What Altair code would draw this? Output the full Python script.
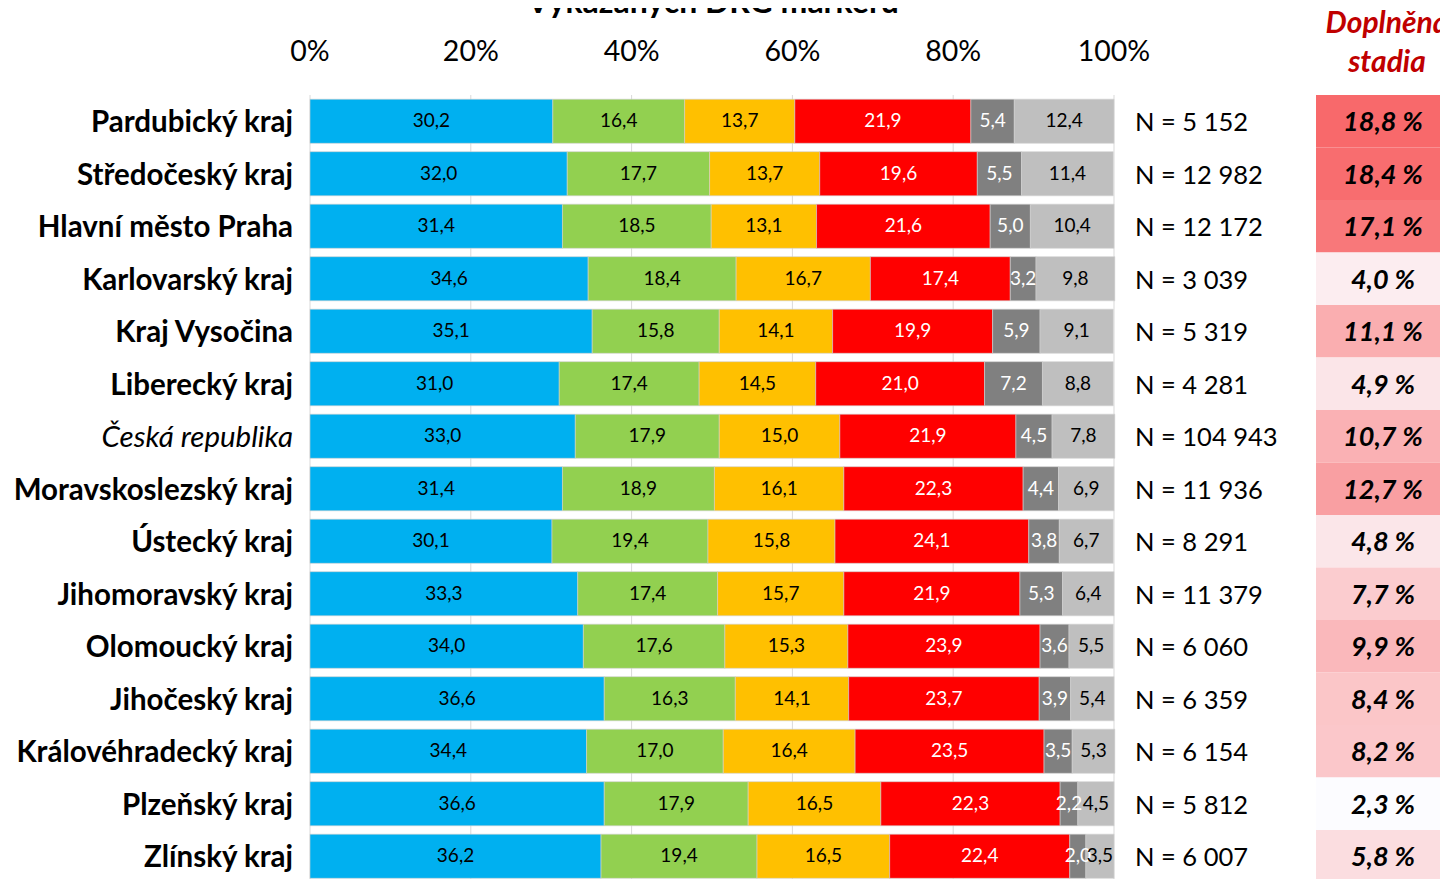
import altair as alt
import pandas as pd

title = "Vykázaných DRG markerů"
header = ["Doplněná", "stadia"]

regions = ["Pardubický kraj", "Středočeský kraj", "Hlavní město Praha", "Karlovarský kraj",
           "Kraj Vysočina", "Liberecký kraj", "Česká republika", "Moravskoslezský kraj",
           "Ústecký kraj", "Jihomoravský kraj", "Olomoucký kraj", "Jihočeský kraj",
           "Královéhradecký kraj", "Plzeňský kraj", "Zlínský kraj"]
italic_region = "Česká republika"

series = ["I", "II", "III", "IV", "X", "neuvedeno"]
s_blue = [30.2, 32.0, 31.4, 34.6, 35.1, 31.0, 33.0, 31.4, 30.1, 33.3, 34.0, 36.6, 34.4, 36.6, 36.2]
s_green = [16.4, 17.7, 18.5, 18.4, 15.8, 17.4, 17.9, 18.9, 19.4, 17.4, 17.6, 16.3, 17.0, 17.9, 19.4]
s_yellow = [13.7, 13.7, 13.1, 16.7, 14.1, 14.5, 15.0, 16.1, 15.8, 15.7, 15.3, 14.1, 16.4, 16.5, 16.5]
s_red = [21.9, 19.6, 21.6, 17.4, 19.9, 21.0, 21.9, 22.3, 24.1, 21.9, 23.9, 23.7, 23.5, 22.3, 22.4]
s_dgray = [5.4, 5.5, 5.0, 3.2, 5.9, 7.2, 4.5, 4.4, 3.8, 5.3, 3.6, 3.9, 3.5, 2.2, 2.0]
s_lgray = [12.4, 11.4, 10.4, 9.8, 9.1, 8.8, 7.8, 6.9, 6.7, 6.4, 5.5, 5.4, 5.3, 4.5, 3.5]
n_counts = [5152, 12982, 12172, 3039, 5319, 4281, 104943, 11936, 8291, 11379, 6060, 6359, 6154, 5812, 6007]
doplnena = [18.8, 18.4, 17.1, 4.0, 11.1, 4.9, 10.7, 12.7, 4.8, 7.7, 9.9, 8.4, 8.2, 2.3, 5.8]

tick_values = [0, 20, 40, 60, 80, 100]
tick_labels = ["0%", "20%", "40%", "60%", "80%", "100%"]

bar_colors = ["#00B0F0", "#92D050", "#FFC000", "#FF0000", "#808080", "#BFBFBF"]
label_colors = ["#000000", "#000000", "#000000", "#FFFFFF", "#FFFFFF", "#000000"]

FONT = "Lato"

all_series = [s_blue, s_green, s_yellow, s_red, s_dgray, s_lgray]
seg_rows = []
for i, r in enumerate(regions):
    for j, s in enumerate(series):
        v = all_series[j][i]
        seg_rows.append({"region": r, "series": s, "order": j, "value": v,
                         "label": f"{v:.1f}".replace(".", ",")})
seg = pd.DataFrame(seg_rows)

reg = pd.DataFrame({
    "region": regions,
    "n_label": [("N = " + f"{n:,}".replace(",", " ")) for n in n_counts],
    "dop": doplnena,
    "dop_label": [f"{d:.1f}".replace(".", ",") + " %" for d in doplnena],
})
ticks = pd.DataFrame({"v": tick_values, "label": tick_labels})

xscale = alt.Scale(domain=[0, 100], range=[302, 1106], nice=False, zero=False)
yscale = alt.Scale(type="band", domain=regions, range=[87, 874.5], paddingInner=0.16, paddingOuter=0.08)
yscale_heat = alt.Scale(type="band", domain=regions, range=[87, 874.5], paddingInner=0, paddingOuter=0)

Y = alt.Y("region:N", sort=regions, scale=yscale, axis=None)
Yh = alt.Y("region:N", sort=regions, scale=yscale_heat, axis=None)

grid = alt.Chart(ticks).mark_rule(color="#D9D9D9", strokeWidth=1).encode(
    x=alt.X("v:Q", scale=xscale, axis=None),
    y=alt.value(87), y2=alt.value(871))

tick_text = alt.Chart(ticks).mark_text(fontSize=28.5, font=FONT, baseline="middle", color="#000000").encode(
    x=alt.X("v:Q", scale=xscale, axis=None), y=alt.value(44), text="label:N")

bars = alt.Chart(seg).mark_bar(stroke="#D0D0D0", strokeWidth=0.6).encode(
    x=alt.X("value:Q", stack="zero", scale=xscale, axis=None),
    y=Y,
    color=alt.Color("series:N", scale=alt.Scale(domain=series, range=bar_colors), legend=None),
    order=alt.Order("order:Q"),
)

bar_text = alt.Chart(seg).transform_stack(
    stack="value", groupby=["region"], sort=[alt.SortField("order")], as_=["x0", "x1"]
).transform_calculate(mid="(datum.x0 + datum.x1) / 2").mark_text(
    fontSize=19, font=FONT, baseline="middle"
).encode(
    x=alt.X("mid:Q", scale=xscale, axis=None),
    y=Y,
    text="label:N",
    color=alt.Color("series:N", scale=alt.Scale(domain=series, range=label_colors), legend=None),
)

cat_bold = alt.Chart(reg).transform_filter(f"datum.region != '{italic_region}'").mark_text(
    fontSize=29.5, font=FONT, fontWeight="bold", align="right", baseline="middle", color="#000000", dy=2
).encode(x=alt.value(285), y=Y, text="region:N")

cat_ital = alt.Chart(reg).transform_filter(f"datum.region == '{italic_region}'").mark_text(
    fontSize=29.5, font=FONT, fontStyle="italic", align="right", baseline="middle", color="#000000", dy=2
).encode(x=alt.value(285), y=Y, text="region:N")

n_text = alt.Chart(reg).mark_text(
    fontSize=25.5, font=FONT, align="left", baseline="middle", color="#000000", dy=2
).encode(x=alt.value(1127), y=Y, text="n_label:N")

heat = alt.Chart(reg).mark_rect().encode(
    x=alt.value(1308), x2=alt.value(1440), y=Yh,
    color=alt.Color("dop:Q", scale=alt.Scale(domain=[min(doplnena), max(doplnena)],
                                             range=["#FCFCFF", "#F8696B"], interpolate="rgb"),
                    legend=None),
)
heat_text = alt.Chart(reg).mark_text(
    fontSize=27, font=FONT, fontWeight="bold", fontStyle="italic", baseline="middle", color="#000000", dy=2
).encode(x=alt.value(1375), y=Yh, text="dop_label:N")

hdr = pd.DataFrame({"t": header})
hdr1 = alt.Chart(hdr).transform_filter(alt.datum.t == header[0]).mark_text(
    fontSize=30, font=FONT, fontWeight="bold", fontStyle="italic", baseline="middle", color="#C00000"
).encode(x=alt.value(1379), y=alt.value(16), text="t:N")
hdr2 = alt.Chart(hdr).transform_filter(alt.datum.t == header[1]).mark_text(
    fontSize=30, font=FONT, fontWeight="bold", fontStyle="italic", baseline="middle", color="#C00000"
).encode(x=alt.value(1379), y=alt.value(55), text="t:N")

ttl = alt.Chart(pd.DataFrame({"t": [title]})).mark_text(
    fontSize=32, font=FONT, fontWeight="bold", baseline="alphabetic", color="#000000"
).encode(x=alt.value(705), y=alt.value(5), text="t:N")

chart = alt.layer(
    grid, tick_text, bars, bar_text, cat_bold, cat_ital, n_text, heat, heat_text, hdr1, hdr2, ttl
).resolve_scale(y="independent", color="independent").properties(
    width=1432, height=871, autosize=alt.AutoSizeParams(type="none"), padding=0
).configure(font=FONT).configure_view(stroke=None, strokeWidth=0)

chart.save("out.html", embed_options={"renderer": "svg", "actions": False})
